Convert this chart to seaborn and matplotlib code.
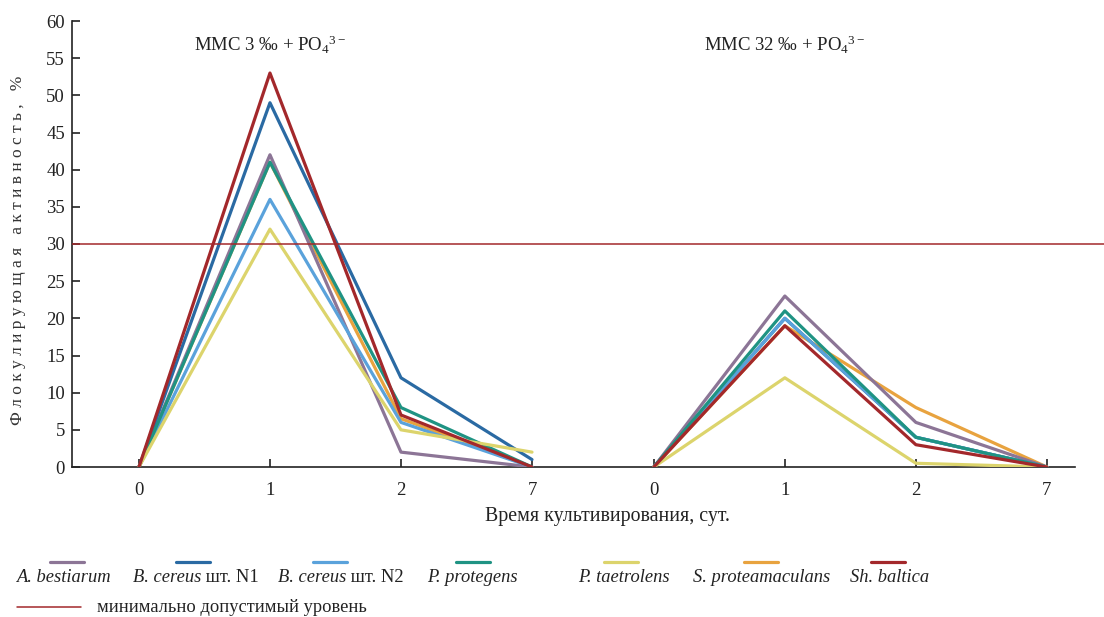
import numpy as np
import pandas as pd
import matplotlib
matplotlib.use("Agg")
import matplotlib.pyplot as plt
from matplotlib.lines import Line2D
import seaborn as sns

# ---- data ----
days = ["0", "1", "2", "7"]
strains = ["A. bestiarum", "B. cereus шт. N1", "B. cereus шт. N2", "P. protegens",
           "P. taetrolens", "S. proteamaculans", "Sh. baltica"]
# MMC 3 ‰ + PO4
g1_bestiarum = [0, 42, 2, 0]
g1_cereus1 = [0, 49, 12, 1]
g1_cereus2 = [0, 36, 6, 0]
g1_protegens = [0, 41, 8, 0]
g1_taetrolens = [0, 32, 5, 2]
g1_proteamaculans = [0, 41, 6.5, 0]
g1_baltica = [0, 53, 7, 0]
# MMC 32 ‰ + PO4
g2_bestiarum = [0, 23, 6, 0]
g2_cereus1 = [0, 20, 4, 0]
g2_cereus2 = [0, 20, 4, 0]
g2_protegens = [0, 21, 4, 0]
g2_taetrolens = [0, 12, 0.5, 0]
g2_proteamaculans = [0, 19, 8, 0]
g2_baltica = [0, 19, 3, 0]
threshold = 30
group_titles = ["ММС 3 ‰ + PO$_{4}{}^{3-}$", "ММС 32 ‰ + PO$_{4}{}^{3-}$"]

colors = ["#8c7596", "#2a6aa3", "#5aa2db", "#1f9383", "#dcd46c", "#e8a33f", "#a3282b"]
draw_order = [5, 0, 1, 2, 3, 4, 6]

g1 = [g1_bestiarum, g1_cereus1, g1_cereus2, g1_protegens, g1_taetrolens, g1_proteamaculans, g1_baltica]
g2 = [g2_bestiarum, g2_cereus1, g2_cereus2, g2_protegens, g2_taetrolens, g2_proteamaculans, g2_baltica]

offsets = [0.0, 3.93]
rows = []
for gi, grp in enumerate([g1, g2]):
    for si, vals in enumerate(grp):
        for di, v in enumerate(vals):
            rows.append(dict(group=gi, strain=strains[si], pos=offsets[gi] + di, value=v))
df = pd.DataFrame(rows)

sns.set_style("ticks")
plt.rcParams['font.family'] = ['Liberation Serif', 'DejaVu Serif']
plt.rcParams['mathtext.fontset'] = 'custom'
plt.rcParams['mathtext.rm'] = 'Liberation Serif'
plt.rcParams['mathtext.it'] = 'Liberation Serif:italic'

W, H = 1104, 617
fig = plt.figure(figsize=(W / 100, H / 100), dpi=100)
ax = fig.add_axes([72 / W, 1 - 467 / H, (W - 72) / W, (467 - 21) / H])

for gi in range(2):
    for si in draw_order:
        sub = df[(df.group == gi) & (df.strain == strains[si])]
        sns.lineplot(data=sub, x="pos", y="value", color=colors[si], lw=2.3,
                     ax=ax, legend=False, zorder=3 + draw_order.index(si))

ax.axhline(threshold, color="#a3282b", lw=1.1, zorder=10)

ax.set_xlim(-0.511, 7.366)
ax.set_ylim(0, 60)
ax.set_yticks(np.arange(0, 61, 5))
positions = [offsets[g] + d for g in range(2) for d in range(4)]
ax.set_xticks(positions)
ax.set_xticklabels(days * 2)
ax.tick_params(axis="both", direction="in", length=6, width=1.2, labelsize=13.5, colors="#222222")
ax.tick_params(axis="x", pad=11)
ax.tick_params(axis="y", pad=5)
for s in ["top", "right"]:
    ax.spines[s].set_visible(False)
for s in ["left", "bottom"]:
    ax.spines[s].set_linewidth(1.2)
    ax.spines[s].set_color("#222222")
ax.spines["bottom"].set_bounds(-0.511, 7.145)
ax.set_xlabel("")
ax.set_ylabel("")

for gi in range(2):
    ax.text(offsets[gi] + 1, 56.8, group_titles[gi], ha="center", va="center", fontsize=13.5, color="#222222")

ylab = "   ".join([" ".join(w) for w in ["Флокулирующая", "активность,", "%"]])
fig.text(18 / W, 1 - 250 / H, ylab, rotation=90, ha="center", va="center", fontsize=12.5, color="#333333")
fig.text(607 / W, 1 - 516 / H, "Время культивирования, сут.", ha="center", va="center", fontsize=14.3, color="#222222")

# ---- legend ----
fig.canvas.draw()
renderer = fig.canvas.get_renderer()
handle_cx = [67, 193, 330, 473, 621, 761, 888]
label_x = [16, 133, 278, 427, 578, 693, 850]
for i, name in enumerate(strains):
    fig.add_artist(Line2D([(handle_cx[i] - 17) / W, (handle_cx[i] + 17) / W],
                          [1 - 562 / H, 1 - 562 / H], color=colors[i], lw=2.3,
                          transform=fig.transFigure))
    if "шт." in name:
        it_part, rm_part = "B. cereus", name.replace("B. cereus", "")
    else:
        it_part, rm_part = name, ""
    t = fig.text(label_x[i] / W, 1 - 578 / H, it_part, style="italic", ha="left", va="center",
                 fontsize=13.3, color="#222222")
    if rm_part:
        bb = t.get_window_extent(renderer)
        fig.text(bb.x1 / W, 1 - 578 / H, rm_part, ha="left", va="center", fontsize=13.3, color="#222222")

fig.add_artist(Line2D([17 / W, 81 / W], [1 - 607 / H, 1 - 607 / H], color="#a3282b", lw=1.1,
                      transform=fig.transFigure))
fig.text(97 / W, 1 - 607 / H, "минимально допустимый уровень", ha="left", va="center",
         fontsize=13.3, color="#222222")

fig.savefig("out.png", dpi=100)
